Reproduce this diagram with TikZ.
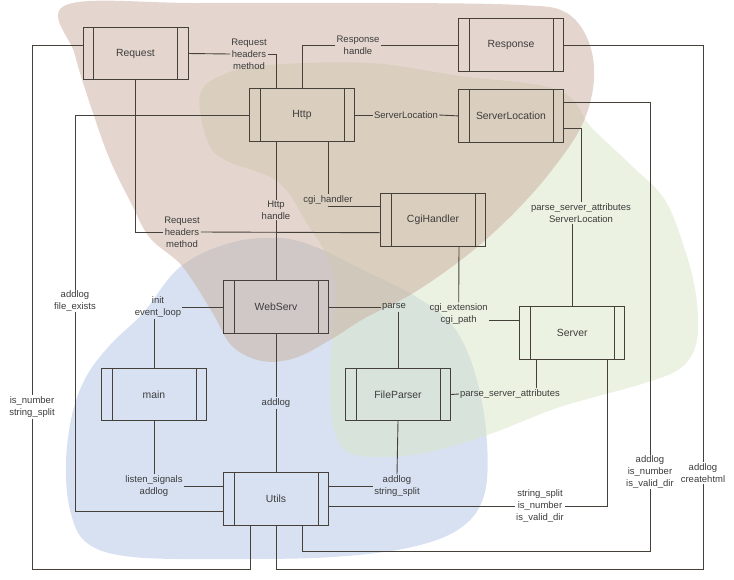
\documentclass[tikz,border=0pt]{standalone}
\usepackage{fontspec}
\setmainfont{Liberation Sans}
\usetikzlibrary{positioning, calc}
\definecolor{ln}{RGB}{70,64,58}
\definecolor{txt}{RGB}{60,60,60}
\definecolor{tanblob}{RGB}{201,173,157}
\definecolor{greenblob}{RGB}{217,229,197}
\definecolor{blueblob}{RGB}{177,196,230}
\tikzset{
  wire/.style={draw=ln, line width=0.9pt},
  blob/.style={fill opacity=0.5},
  modbox/.style={draw=ln, line width=0.9pt, minimum width=105pt, minimum height=52.5pt, inner sep=0pt,
    text=txt, font=\fontsize{10.4}{12}\selectfont,
    path picture={\draw[wire] ([xshift=10.5pt]path picture bounding box.north west) -- ([xshift=10.5pt]path picture bounding box.south west)
      ([xshift=-10.5pt]path picture bounding box.north east) -- ([xshift=-10.5pt]path picture bounding box.south east);}},
  lab/.style={font=\fontsize{9.5}{11.8}\selectfont, align=center, inner sep=1pt, text=txt}
}

\begin{document}
\begin{tikzpicture}[x=1pt, y=-1pt]
\useasboundingbox (0,0) rectangle (734,579);
\fill[blob, blueblob] plot[smooth cycle, tension=0.6] coordinates {(143,313) (180,267) (230,243) (280,238) (318,248) (363,270) (413,295) (452,325) (474,370) (486,430) (485,492) (462,527) (412,547) (333,557) (233,559) (133,557) (87,543) (70,510) (66,463) (72,415) (86,377) (110,345)};
\fill[blob, greenblob] plot[smooth cycle, tension=0.6] coordinates {(200,95) (222,75) (267,65) (370,63) (460,76) (558,90) (592,128) (633,167) (665,200) (685,250) (696,295) (697,340) (682,367) (645,383) (560,407) (493,433) (430,452) (375,457) (345,450) (332,420) (330,370) (334,320) (336,290) (328,258) (308,225) (278,182) (225,160) (207,140)};
\fill[blob, tanblob] plot[smooth cycle, tension=0.6] coordinates {(66,5) (200,3) (400,3) (520,5) (565,12) (588,40) (594,80) (582,125) (552,170) (515,212) (470,253) (415,292) (365,318) (330,340) (295,358) (262,361) (232,346) (212,312) (182,266) (150,238) (131,203) (110,160) (92,110) (75,55)};

\node[modbox] (req) at (135.5,53.5) {Request};
\node[modbox] (resp) at (511,45) {Response};
\node[modbox, below=17.5pt of resp] (sloc) {ServerLocation};
\node[modbox] (http) at (302,115) {Http};
\node[modbox] (cgi) at (433,220) {CgiHandler};
\node[modbox] (webserv) at (276,307) {WebServ};
\node[modbox] (main) at (154,394.5) {main};
\node[modbox] (fparser) at (398,394.5) {FileParser};
\node[modbox] (server) at (572.3,333) {Server};
\node[modbox] (utils) at (276,499) {Utils};
\coordinate (srvl) at ([xshift=-36pt]server.south);
\coordinate (srvr) at ([xshift=35pt]server.south);

\node[lab] (reqhttp) at (249,54) {Request\\headers\\method};
\node[lab] (resphttp) at (358,45) {Response\\handle};
\node[lab] (httpsloc) at (406,115) {ServerLocation};
\node[lab] (cgihandler) at (328,200) {cgi\_handler};
\node[lab] (reqcgi) at (182,232) {Request\\headers\\method};
\node[lab] (httpws) at (276,210) {Http\\handle};
\node[lab] (httputils) at (75,301) {addlog\\file\_exists};
\node[lab] (requtils) at (32,407) {is\_number\\string\_split};
\node[lab] (resputils) at (703,473) {addlog\\createhtml};
\node[lab] (slocutils) at (650,472) {addlog\\is\_number\\is\_valid\_dir};
\node[lab] (slocsrv) at (581,213) {parse\_server\_attributes\\ServerLocation};
\node[lab] (cgisrv) at (458.7,314) {cgi\_extension\\cgi\_path};
\node[lab] (wsparse) at (394,307) {parse};
\node[lab] (fpsrv) at (510,394) {parse\_server\_attributes};
\node[lab] (fputils) at (397,486) {addlog\\string\_split};
\node[lab] (srvutils) at (540,506) {string\_split\\is\_number\\is\_valid\_dir};
\node[lab] (wsutils) at (276,403) {addlog};
\node[lab] (wsmain) at (158,307) {init\\event\_loop};
\node[lab] (mainutils) at (154,486) {listen\_signals\\addlog};

\draw[wire] (req.east) -- (reqhttp.west);
\draw[wire] (reqhttp.east) -| ([xshift=-26pt]http.north);
\draw[wire] (resp.west) -- (resphttp.east);
\draw[wire] (resphttp.west) -| (http.north);
\draw[wire] (http.east) -- (httpsloc.west);
\draw[wire] (httpsloc.east) -- (sloc.west);
\draw[wire] ([xshift=26pt]http.south) -- (cgihandler.north);
\draw[wire] (cgihandler.south) |- ([yshift=14pt]cgi.west);
\draw[wire] (req.south) |- (reqcgi.west);
\draw[wire] (reqcgi.east) -- ([yshift=-12.7pt]cgi.west);
\draw[wire] ([xshift=-26pt]http.south) -- (httpws.north);
\draw[wire] (httpws.south) -- (webserv.north);
\draw[wire] (http.west) -| (httputils.north);
\draw[wire] (httputils.south) |- ([yshift=-12.7pt]utils.west);
\draw[wire] ([yshift=8.5pt]req.west) -| (requtils.north);
\draw[wire] (requtils.south) |- ($(utils.south)+(-26,43.5)$) -- ([xshift=-26pt]utils.south);
\draw[wire] (resp.east) -| (resputils.north);
\draw[wire] (resputils.south) |- ($(utils.south)+(0,43.5)$) -- (utils.south);
\draw[wire] ([yshift=13pt]sloc.east) -| (slocutils.north);
\draw[wire] (slocutils.south) |- ($(utils.south)+(26,25.7)$) -- ([xshift=26pt]utils.south);
\draw[wire] ([yshift=-13pt]sloc.east) -| (slocsrv.north);
\draw[wire] (slocsrv.south -| server.north) -- (server.north);
\draw[wire] ([xshift=26pt]cgi.south) -- (cgisrv.north);
\draw[wire] ($(cgisrv.east)+(0,6)$) -- ([yshift=13pt]server.west);
\draw[wire] (webserv.east) -- (wsparse.west);
\draw[wire] (wsparse.south -| fparser.north) -- (fparser.north);
\draw[wire] (fparser.east) -- (fpsrv.west);
\draw[wire] (fpsrv.north -| srvl) -- (srvl);
\draw[wire] (fparser.south) -- (fputils.north);
\draw[wire] (fputils.west) -- (fputils.west -| utils.east);
\draw[wire] (srvutils.west) -- (srvutils.west -| utils.east);
\draw[wire] (srvutils.east) -| (srvr);
\draw[wire] (webserv.south) -- (wsutils.north);
\draw[wire] (wsutils.south) -- (utils.north);
\draw[wire] (webserv.west) -- (wsmain.east);
\draw[wire] (wsmain.south -| main.north) -- (main.north);
\draw[wire] (main.south) -- (mainutils.north);
\draw[wire] (mainutils.east) -- (mainutils.east -| utils.west);
\end{tikzpicture}
\end{document}
